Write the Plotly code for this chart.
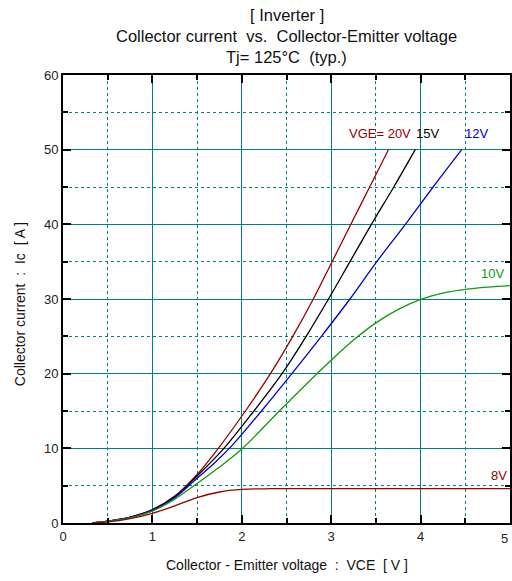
import plotly.graph_objects as go

# ---- data ----
vce_20 = [0.33, 0.5, 0.75, 1.0, 1.25, 1.5, 1.75, 2.04, 2.32, 2.57, 2.80, 3.01, 3.22, 3.43, 3.64]
ic_20 = [0.0, 0.25, 0.8, 1.8, 3.6, 6.5, 10.2, 15, 20, 25, 30, 35, 40, 45, 50]

vce_15 = [0.33, 0.5, 0.75, 1.0, 1.25, 1.5, 1.80, 2.135, 2.45, 2.72, 2.97, 3.21, 3.45, 3.70, 3.94]
ic_15 = [0.0, 0.25, 0.75, 1.75, 3.5, 6.3, 10, 15, 20, 25, 30, 35, 40, 45, 50]

vce_12 = [0.33, 0.5, 0.75, 1.0, 1.25, 1.5, 1.7, 1.9, 2.22, 2.56, 2.89, 3.21, 3.51, 3.83, 4.14, 4.46]
ic_12 = [0.0, 0.25, 0.75, 1.7, 3.4, 6.0, 8.1, 10.5, 15, 20, 25, 30, 35, 40, 45, 50]

vce_10 = [0.33, 0.5, 0.75, 1.0, 1.25, 1.5, 1.75, 2.0, 2.42, 2.84, 3.0, 3.25, 3.5, 3.75, 4.0, 4.25, 4.5, 4.75, 5.0]
ic_10 = [0.0, 0.25, 0.7, 1.6, 3.2, 5.3, 7.5, 9.9, 15, 20, 21.8, 24.5, 26.8, 28.6, 29.95, 30.8, 31.3, 31.6, 31.8]

vce_8 = [0.33, 0.5, 0.75, 1.0, 1.25, 1.5, 1.75, 2.0, 2.25, 2.5, 3.0, 4.0, 5.0]
ic_8 = [0.0, 0.15, 0.6, 1.3, 2.3, 3.4, 4.15, 4.5, 4.58, 4.6, 4.6, 4.6, 4.6]

series = [
    ("VGE=20V", vce_20, ic_20, "#990000"),
    ("VGE=15V", vce_15, ic_15, "#000000"),
    ("VGE=12V", vce_12, ic_12, "#0000cc"),
    ("VGE=10V", vce_10, ic_10, "#119911"),
    ("VGE=8V", vce_8, ic_8, "#990000"),
]

labels = [
    ("VGE= 20V", 3.91, 52.2, "#990000", "right"),
    ("15V", 3.93, 52.2, "#000000", "left"),
    ("12V", 4.47, 52.2, "#0000cc", "left"),
    ("10V", 4.65, 33.4, "#119911", "left"),
    ("8V", 4.76, 6.4, "#990000", "left"),
]

title_lines = ["[ Inverter ]",
               "Collector current  vs.  Collector-Emitter voltage",
               "Tj= 125°C  (typ.)"]
x_title = "Collector - Emitter voltage  :  VCE  [ V ]"
y_title = "Collector current  :  Ic  [ A ]"
x_last_label = "5"

FONT = "Liberation Sans, Arial, sans-serif"
TEAL = "#008080"

fig = go.Figure()
for name, xs, ys, col in series:
    fig.add_trace(go.Scatter(x=xs, y=ys, mode="lines", name=name,
                             line=dict(color=col, width=1.3, shape="spline", smoothing=1.0),
                             showlegend=False, hoverinfo="skip"))

annotations = []
for txt, x, y, col, anc in labels:
    annotations.append(dict(text=txt, x=x, y=y, xref="x", yref="y", showarrow=False,
                            xanchor=anc, yanchor="middle",
                            font=dict(family=FONT, size=13, color=col)))

# plot area: top 75px, bottom 523px (height 448), left 63, width 449
for i, line in enumerate(title_lines):
    py = 15 + 21 * i
    annotations.append(dict(text=line, x=0.5, y=(523 - py) / 448, xref="paper", yref="paper",
                            showarrow=False, xanchor="center", yanchor="middle",
                            font=dict(family=FONT, size=16.5, color="#111111")))
annotations.append(dict(text=x_title, x=0.5, y=(523 - 565) / 448, xref="paper", yref="paper",
                        showarrow=False, xanchor="center", yanchor="middle",
                        font=dict(family=FONT, size=14, color="#111111")))
annotations.append(dict(text=y_title, x=(20 - 63) / 449, y=(523 - 304) / 448, xref="paper", yref="paper",
                        showarrow=False, xanchor="center", yanchor="middle", textangle=-90,
                        font=dict(family=FONT, size=14, color="#111111")))
annotations.append(dict(text=x_last_label, x=5, y=(523 - 538) / 448, xref="x", yref="paper",
                        showarrow=False, xanchor="right", yanchor="middle",
                        font=dict(family=FONT, size=13, color="#222222")))

axis_common = dict(
    showgrid=True, gridcolor=TEAL, gridwidth=1,
    showline=True, linecolor="black", linewidth=2, mirror="allticks",
    ticks="inside", ticklen=8, tickwidth=2, tickcolor="black",
    zeroline=False,
    tickfont=dict(family=FONT, size=13, color="#222222"),
)

fig.update_layout(
    width=512, height=581,
    margin=dict(l=63, r=0, t=75, b=58),
    paper_bgcolor="white", plot_bgcolor="white",
    font=dict(family=FONT),
    xaxis=dict(range=[0, 5], dtick=1, tick0=0,
               minor=dict(dtick=0.5, showgrid=True, gridcolor=TEAL, griddash="dot",
                          gridwidth=1, ticks="inside", ticklen=5, tickcolor="black", tickwidth=1.5),
               **axis_common),
    yaxis=dict(range=[0, 60], dtick=10, tick0=0,
               minor=dict(dtick=5, showgrid=True, gridcolor=TEAL, griddash="dot",
                          gridwidth=1, ticks="inside", ticklen=5, tickcolor="black", tickwidth=1.5),
               **axis_common),
    annotations=annotations,
)

fig.write_html("out.html")
